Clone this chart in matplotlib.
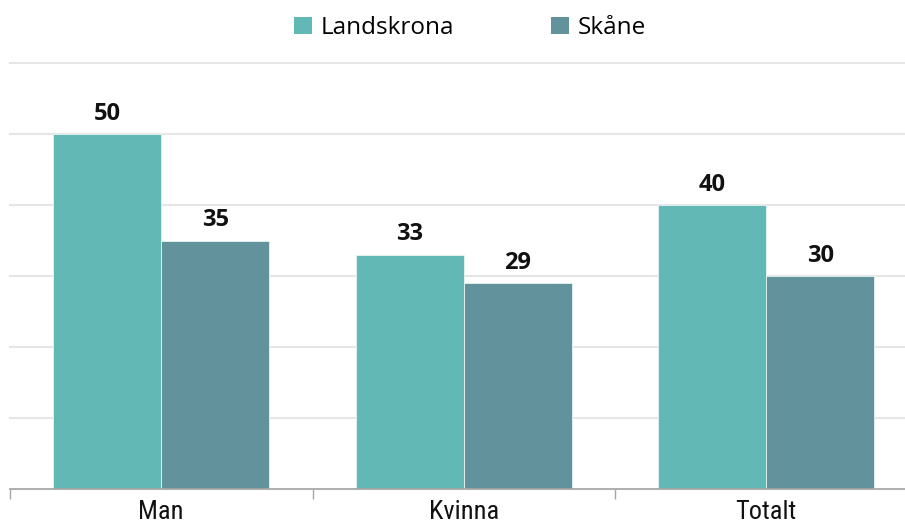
import matplotlib
matplotlib.use("Agg")
import matplotlib.pyplot as plt
import numpy as np
from matplotlib.patches import Patch

categories = ["Man", "Kvinna", "Totalt"]
series_names = ["Landskrona", "Skåne"]
landskrona = [50, 33, 40]
skane = [35, 29, 30]
colors = ["#62B8B5", "#62939D"]

W, H = 905, 532
fig = plt.figure(figsize=(W / 100, H / 100), dpi=100)
left_px, right_px = 10, 917.5
bottom_px, top_px = 489, 63
ax = fig.add_axes([left_px / W, (H - bottom_px) / H,
                   (right_px - left_px) / W, (bottom_px - top_px) / H])

x = np.arange(len(categories))
bw = 0.357
b1 = ax.bar(x - bw / 2, landskrona, bw, color=colors[0], edgecolor="#E8F4F4", linewidth=0.6, zorder=3)
b2 = ax.bar(x + bw / 2, skane, bw, color=colors[1], edgecolor="#E8F4F4", linewidth=0.6, zorder=3)

for bars, vals in ((b1, landskrona), (b2, skane)):
    for rect, v in zip(bars, vals):
        ax.annotate(f"{v}", (rect.get_x() + rect.get_width() / 2, v),
                    xytext=(0, 6), textcoords="offset points", ha="center", va="bottom",
                    fontsize=17, fontweight="bold", family="Open Sans", color="#111111")

ax.set_xlim(-0.5, 2.5)
ax.set_ylim(0, 60)
ax.set_yticks(np.arange(0, 61, 10))
ax.yaxis.grid(True, color="#E6E6E6", linewidth=1.5, zorder=0)
for gl in ax.get_ygridlines():
    gl.set_clip_on(False)
ax.tick_params(axis="y", left=False, labelleft=False)
for s in ["left", "right", "top"]:
    ax.spines[s].set_visible(False)
ax.spines["bottom"].set_color("#A6A6A6")
ax.spines["bottom"].set_linewidth(1.2)
ax.spines["bottom"].set_zorder(4)

ax.set_xticks([-0.5, 0.5, 1.5, 2.5])
ax.set_xticklabels([])
ax.tick_params(axis="x", which="major", length=7, width=1, color="#A6A6A6", direction="out")
ax.set_xticks(x, minor=True)
ax.set_xticklabels(categories, minor=True, fontsize=19,
                   family=["Liberation Sans Narrow", "Roboto Condensed", "Liberation Sans", "DejaVu Sans"],
                   color="#111111")
ax.tick_params(axis="x", which="minor", length=0, pad=8)

handles = [Patch(facecolor=c, edgecolor="none") for c in colors]
fig.legend(handles, series_names, loc="center", bbox_to_anchor=(470 / W, 1 - 28 / H),
           ncol=2, frameon=False, prop={"family": "Open Sans", "size": 17.5},
           handlelength=0.75, handleheight=0.75, handletextpad=0.35, columnspacing=4.0)

fig.savefig("out.png", dpi=100)
